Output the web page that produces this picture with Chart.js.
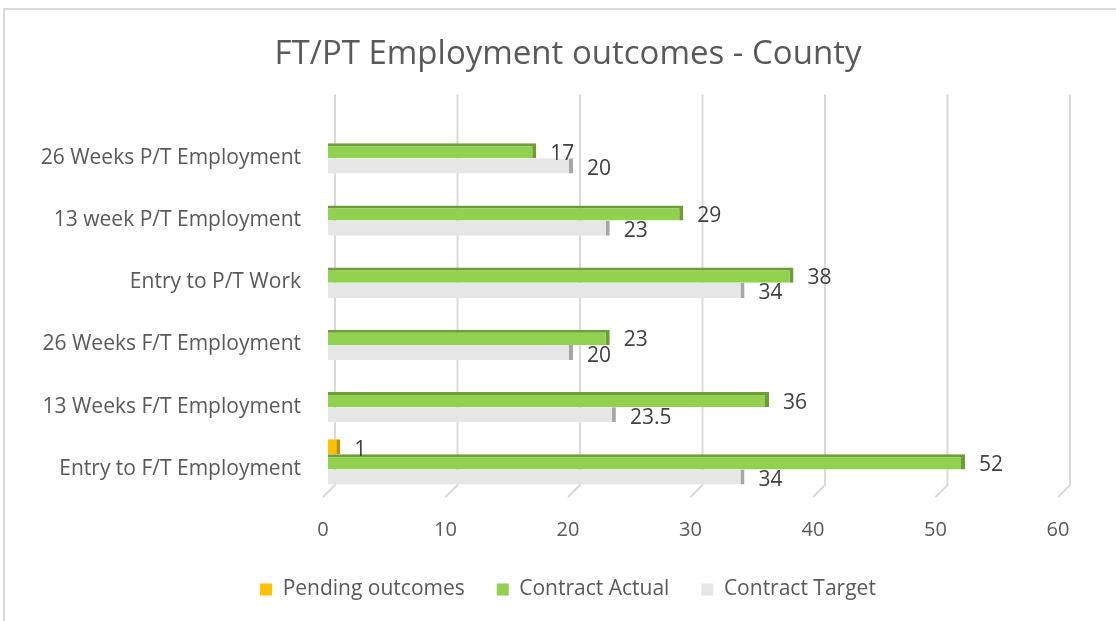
<!DOCTYPE html>
<html>
<head>
<meta charset="utf-8">
<script src="https://cdn.jsdelivr.net/npm/chart.js@4/dist/chart.umd.min.js"></script>
<style>
	html, body { margin: 0; padding: 0; background: #fff; }
	#wrap { position: relative; width: 1116px; height: 621px; overflow: hidden; }
	#frame { position: absolute; left: 3px; top: 8px; width: 1200px; height: 700px;
		border-top: 2px solid #d9d9d9; border-left: 2px solid #d9d9d9; }
	#chart { position: absolute; left: 0; top: 0; }
</style>
</head>
<body>
<div id="wrap">
	<div id="frame"></div>
	<!-- a bit wider than the window: the original chart is cropped on the right -->
	<canvas id="chart" width="1130" height="621"></canvas>
</div>
<script>
	// chart values, top row first
	var categories = ['26 Weeks P/T Employment', '13 week P/T Employment', 'Entry to P/T Work',
		'26 Weeks F/T Employment', '13 Weeks F/T Employment', 'Entry to F/T Employment'];
	var pendingOutcomes = [null, null, null, null, null, 1];
	var contractActual = [17, 29, 38, 23, 36, 52];
	var contractTarget = [20, 23, 34, 20, 23.5, 34];
	var xTicks = [0, 10, 20, 30, 40, 50, 60];

	var textColor = '#595959';
	var gridColor = '#d9d9d9';

	Chart.defaults.font.family = '"Open Sans", sans-serif';

	// gridlines with the little 3D kink at the floor
	var gridPlugin = {
		id: 'grid3d',
		beforeDatasetsDraw: function(chart) {
			var ctx = chart.ctx;
			var area = chart.chartArea;
			var x = chart.scales.x;
			ctx.save();
			ctx.strokeStyle = gridColor;
			ctx.lineWidth = 2;
			for (var i = 0; i < xTicks.length; i++) {
				var px = x.getPixelForValue(xTicks[i]);
				ctx.beginPath();
				ctx.moveTo(px + 7, area.top - 25);
				ctx.lineTo(px + 7, area.bottom - 8);
				ctx.lineTo(px - 5, area.bottom + 4);
				ctx.stroke();
			}
			ctx.restore();
		}
	};

	// value labels to the right of each bar
	var labelPlugin = {
		id: 'valueLabels',
		afterDatasetsDraw: function(chart) {
			var ctx = chart.ctx;
			ctx.save();
			ctx.font = '21px "Open Sans", sans-serif';
			ctx.fillStyle = '#404040';
			ctx.textAlign = 'left';
			ctx.textBaseline = 'middle';
			chart.data.datasets.forEach(function(ds, di) {
				var meta = chart.getDatasetMeta(di);
				meta.data.forEach(function(bar, i) {
					if (ds.data[i] == null) return;
					ctx.fillText(String(ds.data[i]), bar.x + 14, bar.y + 3);
				});
			});
			ctx.restore();
		}
	};

	var ctx = document.getElementById('chart').getContext('2d');
	new Chart(ctx, {
		type: 'bar',
		data: {
			labels: categories,
			datasets: [{
				label: 'Pending outcomes',
				data: pendingOutcomes,
				backgroundColor: '#ffc000',
				borderColor: '#bf9000',
				borderWidth: {top: 0, right: 4, bottom: 0, left: 0},
				borderSkipped: false
			}, {
				label: 'Contract Actual',
				data: contractActual,
				backgroundColor: '#92d050',
				borderColor: '#6e9c3a',
				borderWidth: {top: 3, right: 4, bottom: 0, left: 0},
				borderSkipped: false
			}, {
				label: 'Contract Target',
				data: contractTarget,
				backgroundColor: '#e7e6e6',
				borderColor: '#a6a6a6',
				borderWidth: {top: 0, right: 4, bottom: 0, left: 0},
				borderSkipped: false
			}]
		},
		options: {
			indexAxis: 'y',
			responsive: false,
			animation: false,
			categoryPercentage: 0.73,
			barPercentage: 1.0,
			layout: {padding: {left: 10, right: 4, top: 0, bottom: 11}},
			scales: {
				x: {
					min: 0,
					max: 60,
					grid: {display: false},
					border: {display: false},
					afterBuildTicks: function(scale) {
						scale.ticks = xTicks.map(function(v) { return {value: v}; });
					},
					afterFit: function(scale) { scale.height = 54; },
					ticks: {color: textColor, font: {size: 20}, padding: 17, labelOffset: -5}
				},
				y: {
					grid: {display: false},
					border: {display: false},
					afterFit: function(scale) { scale.width = 318; },
					ticks: {color: textColor, font: {size: 21}, padding: 19, labelOffset: 7}
				},
				// empty right axis, only there to push the title/legend centre right
				yRight: {
					type: 'category',
					position: 'right',
					labels: categories,
					grid: {display: false},
					border: {display: false},
					ticks: {display: false},
					afterFit: function(scale) { scale.width = 63; }
				}
			},
			plugins: {
				title: {
					display: true,
					text: 'FT/PT Employment outcomes - County',
					color: textColor,
					font: {size: 33, weight: 'normal'},
					padding: {top: 35, bottom: 45}
				},
				legend: {
					position: 'bottom',
					labels: {
						color: textColor,
						font: {size: 21},
						boxWidth: 12,
						boxHeight: 12,
						padding: 32,
						generateLabels: function(chart) {
							var items = Chart.defaults.plugins.legend.labels.generateLabels(chart);
							items.forEach(function(it) {
								it.strokeStyle = it.fillStyle;
								it.lineWidth = 0;
							});
							return items;
						}
					}
				},
				tooltip: {enabled: false}
			}
		},
		plugins: [gridPlugin, labelPlugin]
	});
</script>
</body>
</html>
